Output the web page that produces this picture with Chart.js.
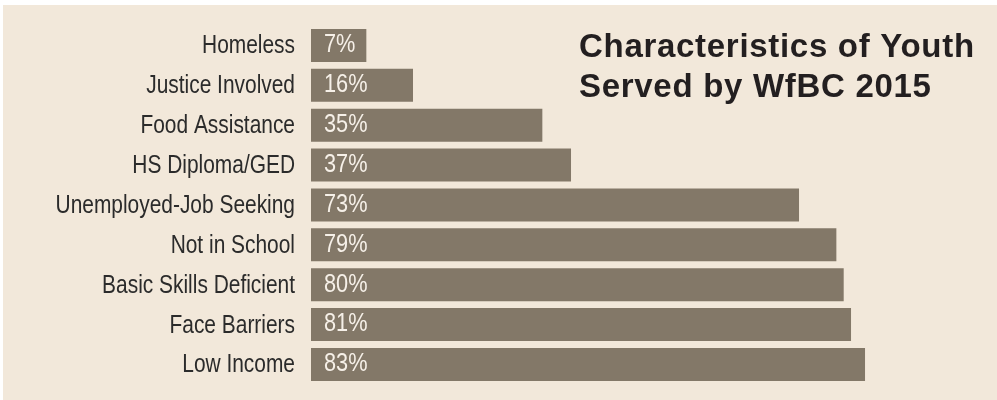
<!DOCTYPE html>
<html>
<head>
<meta charset="utf-8">
<script src="https://cdn.jsdelivr.net/npm/chart.js@4/dist/chart.umd.min.js"></script>
<style>
  html, body { margin: 0; padding: 0; background: #ffffff; }
  #wrap { width: 997px; height: 400px; }
</style>
</head>
<body>
<div id="wrap"><canvas id="c" width="997" height="400"></canvas></div>
<script>
// ---- data ----
const categories = ['Homeless', 'Justice Involved', 'Food Assistance', 'HS Diploma/GED',
  'Unemployed-Job Seeking', 'Not in School', 'Basic Skills Deficient', 'Face Barriers', 'Low Income'];
// bar lengths as drawn in the picture (percent)
const barValues = [8.3, 15.3, 34.7, 39.0, 73.2, 78.8, 79.9, 81.0, 83.1];
// printed percentages
const percentLabels = ['7%', '16%', '35%', '37%', '73%', '79%', '80%', '81%', '83%'];
const titleLines = ['Characteristics of Youth', 'Served by WfBC 2015'];

const BG = '#F2E8DA';
const BAR = '#837868';
const LABEL_FONT = "'Liberation Sans', Arial, sans-serif";
const NARROW = 0.82;   // horizontal compression to mimic a condensed face

const backgroundPlugin = {
  id: 'bg',
  beforeDraw(chart) {
    const ctx = chart.ctx;
    ctx.save();
    ctx.fillStyle = '#ffffff';
    ctx.fillRect(0, 0, chart.width, chart.height);
    ctx.fillStyle = BG;
    ctx.fillRect(3, 5, chart.width - 3, chart.height - 5);
    ctx.restore();
  }
};

// Make the y-axis tick labels condensed: wrap the scale's own label drawing in a horizontal scale.
const condensedTicksPlugin = {
  id: 'condensedTicks',
  beforeDraw(chart) {
    const scale = chart.scales.y;
    if (scale._condensedPatched) return;
    const orig = scale.drawLabels;
    scale.drawLabels = function (area) {
      const ctx = this.ctx;
      const anchor = this.right - this.options.ticks.padding;
      ctx.save();
      ctx.translate(anchor, 1);
      ctx.scale(NARROW, 1);
      ctx.translate(-anchor, 0);
      orig.call(this, area);
      ctx.restore();
    };
    scale._condensedPatched = true;
  }
};

const valueLabelPlugin = {
  id: 'valueLabels',
  afterDatasetsDraw(chart) {
    const ctx = chart.ctx;
    const meta = chart.getDatasetMeta(0);
    ctx.save();
    ctx.font = "26.5px " + LABEL_FONT;
    ctx.fillStyle = '#F6F0E8';
    ctx.textAlign = 'left';
    ctx.textBaseline = 'alphabetic';
    meta.data.forEach((bar, i) => {
      const x0 = bar.base + 13;
      ctx.save();
      ctx.translate(x0, bar.y + 6.8);
      ctx.scale(NARROW, 1);
      ctx.fillText(percentLabels[i], 0, 0);
      ctx.restore();
    });
    ctx.restore();
  }
};

const titlePlugin = {
  id: 'cornerTitle',
  afterDraw(chart) {
    const ctx = chart.ctx;
    ctx.save();
    ctx.font = "bold 33px 'Liberation Sans', Arial, sans-serif";
    if ('letterSpacing' in ctx) ctx.letterSpacing = '0.7px';
    ctx.fillStyle = '#231F20';
    ctx.textAlign = 'left';
    ctx.textBaseline = 'alphabetic';
    ctx.fillText(titleLines[0], 579, 57);
    ctx.fillText(titleLines[1], 579, 97);
    ctx.restore();
  }
};

new Chart(document.getElementById('c'), {
  type: 'bar',
  data: {
    labels: categories,
    datasets: [{
      data: barValues,
      backgroundColor: BAR,
      borderWidth: 0,
      barPercentage: 0.8276,
      categoryPercentage: 1.0
    }]
  },
  options: {
    indexAxis: 'y',
    responsive: false,
    animation: false,
    devicePixelRatio: 1,
    layout: { padding: { top: 25.5, bottom: 15.6, left: 0, right: 19.3 } },
    plugins: {
      legend: { display: false },
      tooltip: { enabled: false },
      title: { display: false }
    },
    scales: {
      x: {
        display: false,
        min: 0,
        max: 100
      },
      y: {
        grid: { display: false, drawTicks: false },
        border: { display: false },
        ticks: {
          color: '#2B2B2B',
          padding: 16,
          font: { family: LABEL_FONT, size: 25.5 }
        },
        afterFit(scale) {
          scale.width = 311;
          scale.paddingTop = 0;
          scale.paddingBottom = 0;
        }
      }
    }
  },
  plugins: [backgroundPlugin, condensedTicksPlugin, valueLabelPlugin, titlePlugin]
});
</script>
</body>
</html>
